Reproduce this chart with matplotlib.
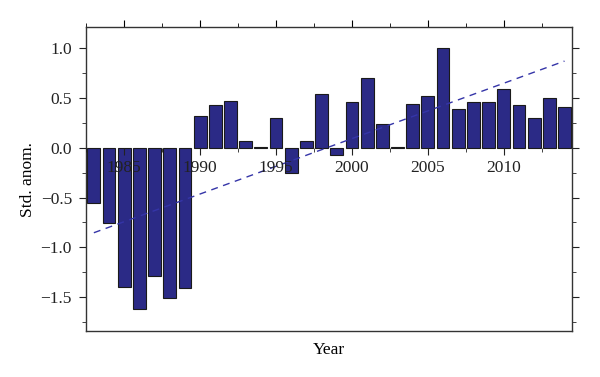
import matplotlib
matplotlib.use("Agg")
import matplotlib.pyplot as plt
import numpy as np
from matplotlib.ticker import MultipleLocator

# Standardised anomaly per year
years = list(range(1983, 2015))
anomaly = [-0.56, -0.76, -1.40, -1.62, -1.29, -1.51, -1.41,
           0.32, 0.43, 0.47, 0.07, 0.01, 0.30, -0.25, 0.07, 0.54, -0.07,
           0.46, 0.70, 0.24, 0.01, 0.44, 0.52, 1.00, 0.39, 0.46, 0.46,
           0.59, 0.43, 0.30, 0.50, 0.41]

plt.rcParams['font.family'] = ['Liberation Serif', 'DejaVu Serif']

fig = plt.figure(figsize=(6.0, 3.77), dpi=100)
ax = fig.add_axes([0.143, 0.122, 0.81, 0.806])

x = np.array(years)
y = np.array(anomaly)

ax.bar(x, y, width=0.84, color='#2b2a86', edgecolor='#1a1a1a',
       linewidth=0.8, zorder=2)

# linear trend
coef = np.polyfit(x, y, 1)
ax.plot(x, np.polyval(coef, x), linestyle=(0, (5, 4)), color='#3535a8',
        linewidth=1.0, zorder=3)

ymin, ymax = -1.84, 1.21
ax.set_xlim(1982.47, 2014.48)
ax.set_ylim(ymin, ymax)

ax.yaxis.set_major_locator(MultipleLocator(0.5))
ax.yaxis.set_minor_locator(MultipleLocator(0.25))
ax.tick_params(axis='y', which='both', direction='out', right=True,
               labelsize=12.5, colors='#222222', pad=5)
ax.tick_params(axis='y', which='major', length=5)
ax.tick_params(axis='y', which='minor', length=3)

# top ticks only, bottom frame without ticks
ax.xaxis.set_major_locator(MultipleLocator(5))
ax.xaxis.set_minor_locator(MultipleLocator(2.5))
ax.tick_params(axis='x', which='both', direction='out', top=True, bottom=False,
               labelbottom=False, labeltop=False)
ax.tick_params(axis='x', which='major', length=5)
ax.tick_params(axis='x', which='minor', length=3)

# year axis drawn on the zero line
zero_frac = (0 - ymin) / (ymax - ymin)
sec = ax.secondary_xaxis(zero_frac)
sec.set_zorder(5)
sec.xaxis.set_ticks_position('bottom')
sec.xaxis.set_label_position('bottom')
sec.spines['top'].set_visible(False)
sec.xaxis.set_major_locator(MultipleLocator(5))
sec.xaxis.set_minor_locator(MultipleLocator(2.5))
sec.tick_params(axis='x', which='both', direction='out', labelsize=12.5,
                colors='#222222', pad=4, bottom=True, top=False,
                labelbottom=True, labeltop=False)
sec.tick_params(axis='x', which='major', length=5)
sec.tick_params(axis='x', which='minor', length=3)
sec.spines['bottom'].set_linewidth(1.0)
sec.spines['bottom'].set_color('#222222')

for s in ax.spines.values():
    s.set_linewidth(1.0)
    s.set_color('#333333')

ax.set_ylabel('Std. anom.', fontsize=12.5, labelpad=3)
ax.set_xlabel('Year', fontsize=12.5, labelpad=8)

fig.savefig('out.png', dpi=100)
